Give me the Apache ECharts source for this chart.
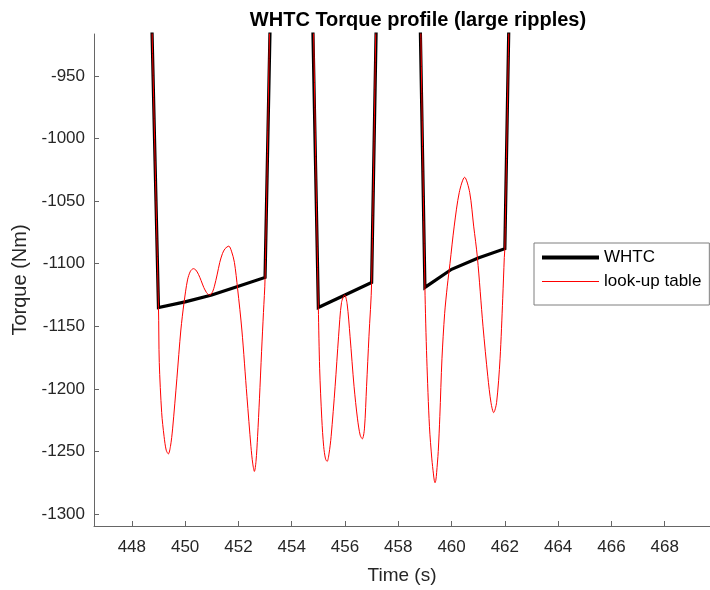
<!DOCTYPE html>
<html>
<head>
<meta charset="utf-8">
<script src="https://cdn.jsdelivr.net/npm/echarts@6/dist/echarts.min.js"></script>
<style>html,body{margin:0;padding:0;background:#fff}#c{width:710px;height:590px}</style>
</head>
<body>
<div id="c"></div>
<script>
// Tick labels
var xTicks = [448, 450, 452, 454, 456, 458, 460, 462, 464, 466, 468];
var yTicks = [-1300, -1250, -1200, -1150, -1100, -1050, -1000, -950];

// WHTC (1 Hz samples)
var whtcTime = [448, 449, 450, 451, 452, 453, 454, 455, 456, 457, 458, 459, 460, 461, 462, 463];
var whtcTorque = [-225, -1135, -1130.5, -1125, -1118, -1111, -50, -1135, -1125, -1115, 80, -1119, -1104.5, -1095.5, -1088, 100];

// look-up table
var lutTime = [
  448.00, 449.00, 449.03, 449.12, 449.21, 449.29, 449.37, 449.45, 449.53, 449.69, 449.84, 449.96,
  450.09, 450.20, 450.31, 450.40, 450.50, 450.60, 450.70, 450.80, 450.87, 450.92, 450.97, 451.04, 451.10, 451.20,
  451.30, 451.40, 451.50, 451.64, 451.74, 451.85, 451.97, 452.13, 452.32, 452.47, 452.54, 452.60,
  452.66, 452.72, 452.79, 452.87, 452.94, 453.00, 454.00,
  455.00, 455.05, 455.13, 455.20, 455.27, 455.33, 455.40, 455.48, 455.63, 455.76, 455.87, 455.99,
  456.08, 456.19, 456.34, 456.47, 456.57, 456.65, 456.73, 456.81, 456.90, 457.00, 458.00,
  459.00, 459.07, 459.17, 459.26, 459.32, 459.35, 459.38, 459.41, 459.44, 459.50, 459.56, 459.64, 459.74, 459.84,
  459.94, 460.10, 460.29, 460.49, 460.68, 460.83, 460.97, 461.18, 461.36, 461.48, 461.58, 461.69,
  461.82, 461.92, 461.98, 462.00, 463.00
];
var lutTorque = [
  -225, -1135, -1179, -1219, -1238, -1249, -1252, -1246, -1232, -1192, -1153, -1131,
  -1113, -1106, -1104, -1105, -1108.5, -1113.5, -1119, -1123, -1124.6, -1125, -1124.5, -1122, -1118, -1109,
  -1099, -1092, -1088, -1086, -1090, -1099, -1120, -1153, -1206, -1246, -1260, -1266,
  -1258, -1238, -1208, -1170, -1139, -1112, -50,
  -1135, -1184, -1224, -1246, -1256, -1258, -1252, -1238, -1198, -1158, -1131, -1125,
  -1132, -1158, -1198, -1224, -1237, -1240, -1232, -1198, -1158, -1115, 80,
  -1119, -1176, -1230, -1256, -1268, -1273, -1275, -1273, -1267, -1250, -1222, -1176, -1140, -1118,
  -1100, -1070, -1043, -1031, -1043, -1070, -1095, -1150, -1190, -1211, -1219, -1211,
  -1176, -1128, -1095, -1088, 100
];

function pairs(xs, ys) { var out = []; for (var i = 0; i < xs.length; i++) out.push([xs[i], ys[i]]); return out; }

var FONT = 'Liberation Sans';
var AX = '#262626';
var AXLINE = '#666666';
var chart = echarts.init(document.getElementById('c'), null, {renderer: 'canvas'});
chart.setOption({
  animation: false,
  backgroundColor: '#ffffff',
  title: {
    text: 'WHTC Torque profile (large ripples)',
    left: 413, top: 5, textAlign: 'center',
    textStyle: {fontFamily: FONT, fontWeight: 'bold', fontSize: 20, color: '#000'}
  },
  grid: {left: 94, top: 34, width: 622, bottom: 63, containLabel: false},
  legend: {
    orient: 'vertical', left: 534, top: 243,
    backgroundColor: '#fff', borderColor: '#7f7f7f', borderWidth: 1,
    padding: [6, 8, 15, 6], itemWidth: 57, itemHeight: 14, itemGap: 7,
    textStyle: {fontFamily: FONT, fontSize: 17, color: '#000'},
    itemStyle: {opacity: 0},
    data: [
      {name: 'WHTC', itemStyle: {opacity: 0}, lineStyle: {width: 4, color: '#000'}},
      {name: 'look-up table', itemStyle: {opacity: 0}, lineStyle: {width: 1, color: '#ff0000'}}
    ]
  },
  xAxis: {
    type: 'value', min: 446.58, max: 469.70,
    name: 'Time (s)', nameLocation: 'middle', nameGap: 40,
    nameTextStyle: {fontFamily: FONT, fontSize: 19, color: AX},
    axisLine: {show: true, lineStyle: {color: AXLINE, width: 1}},
    axisTick: {show: true, inside: true, length: 5, lineStyle: {color: AXLINE}, customValues: xTicks},
    axisLabel: {fontFamily: FONT, fontSize: 17, color: AX, margin: 13, customValues: xTicks,
      formatter: function (v) { return String(v); }},
    splitLine: {show: false}
  },
  yAxis: {
    type: 'value', min: -1309.6, max: -916.5,
    name: 'Torque (Nm)', nameLocation: 'middle', nameGap: 62, nameRotate: 90,
    nameTextStyle: {fontFamily: FONT, fontSize: 20, color: AX},
    axisLine: {show: true, lineStyle: {color: AXLINE, width: 1}},
    axisTick: {show: true, inside: true, length: 5, lineStyle: {color: AXLINE}, customValues: yTicks},
    axisLabel: {fontFamily: FONT, fontSize: 17, color: AX, margin: 9, customValues: yTicks,
      formatter: function (v) { return String(v); }},
    splitLine: {show: false}
  },
  series: [
    {
      name: 'WHTC', type: 'line', data: pairs(whtcTime, whtcTorque),
      showSymbol: false, symbol: 'none', clip: true,
      lineStyle: {color: '#000', width: 3.2, join: 'miter'},
      itemStyle: {color: '#000'}
    },
    {
      name: 'look-up table', type: 'line', data: pairs(lutTime, lutTorque),
      showSymbol: false, symbol: 'none', clip: true, smooth: 0.3,
      lineStyle: {color: '#ff0000', width: 1},
      itemStyle: {color: '#ff0000'}
    }
  ]
});
</script>
</body>
</html>
